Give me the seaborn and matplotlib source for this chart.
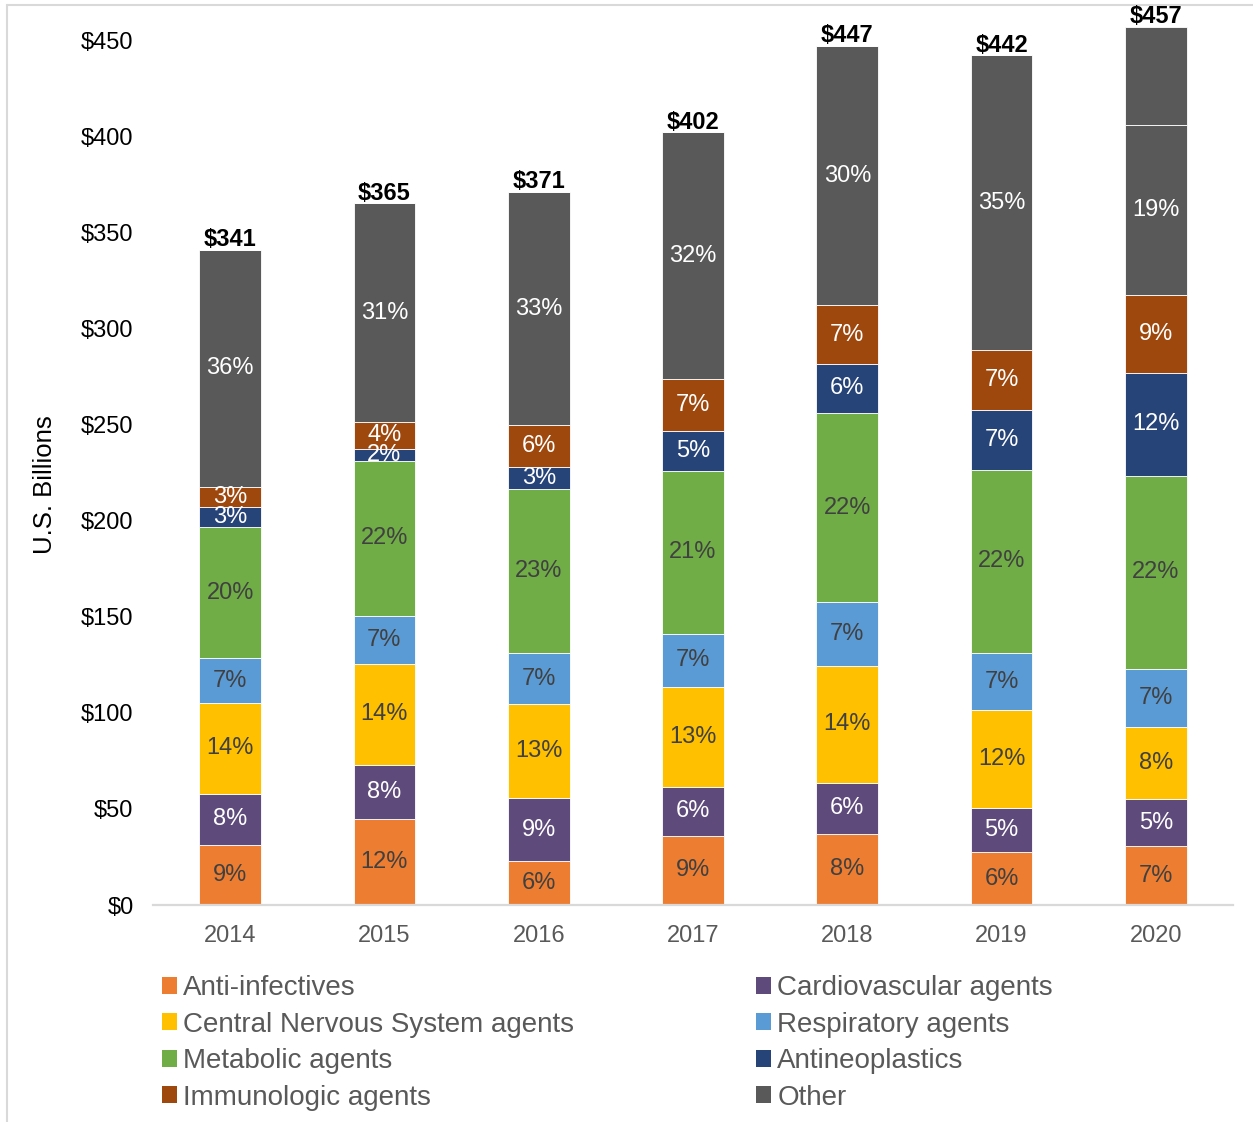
import numpy as np
import pandas as pd
import matplotlib
matplotlib.use("Agg")
import matplotlib.pyplot as plt
from matplotlib.patches import Patch
from matplotlib.lines import Line2D
import seaborn as sns

# Spending by therapeutic class, U.S. $ billions
years = ["2014", "2015", "2016", "2017", "2018", "2019", "2020"]
anti_infectives = [31.0, 44.5, 23.0, 36.0, 37.0, 27.5, 30.5]
cardiovascular = [27.0, 28.5, 32.5, 25.5, 26.5, 23.0, 24.5]
cns_agents = [47.0, 52.5, 49.0, 52.0, 61.0, 51.0, 37.5]
respiratory = [23.5, 25.0, 26.5, 27.5, 33.0, 29.5, 30.5]
metabolic = [68.0, 80.5, 85.5, 85.0, 98.5, 95.5, 100.0]
antineoplastics = [10.5, 6.5, 11.5, 20.5, 25.5, 31.0, 54.0]
immunologic = [10.5, 14.0, 21.5, 27.0, 30.5, 31.5, 40.5]
other = [123.5, 113.5, 121.5, 128.5, 135.0, 153.0, 88.5]
other_unallocated = [0.0, 0.0, 0.0, 0.0, 0.0, 0.0, 51.0]

# (legend name, values, fill colour, label colour or None for no labels)
series = [
    ("Anti-infectives", anti_infectives, "#ED7D31", "#404040"),
    ("Cardiovascular agents", cardiovascular, "#5E4A7B", "white"),
    ("Central Nervous System agents", cns_agents, "#FFC000", "#404040"),
    ("Respiratory agents", respiratory, "#5B9BD5", "#404040"),
    ("Metabolic agents", metabolic, "#70AD47", "#404040"),
    ("Antineoplastics", antineoplastics, "#264478", "white"),
    ("Immunologic agents", immunologic, "#9E480E", "white"),
    ("Other", other, "#595959", "white"),
    (None, other_unallocated, "#595959", None),
]

sns.set_theme(style="white")
plt.rcParams["font.family"] = ["Liberation Sans", "DejaVu Sans"]

W, H = 1253, 1122
fig = plt.figure(figsize=(W / 100, H / 100), dpi=100)
ax = fig.add_axes([153 / W, (H - 905) / H, 1080 / W, 900 / H])
ax.patch.set_visible(False)

totals = np.sum([np.asarray(s[1]) for s in series], axis=0)

bottom = np.zeros(len(years))
for name, vals, color, txt_color in series:
    vals = np.asarray(vals, dtype=float)
    df = pd.DataFrame({"year": years, "value": vals})
    sns.barplot(data=df, x="year", y="value", order=years, color=color,
                saturation=1, width=0.4, errorbar=None, bottom=bottom.copy(),
                edgecolor="white", linewidth=0.6, ax=ax)
    if txt_color is not None:
        for i, (v, b, t) in enumerate(zip(vals, bottom, totals)):
            ax.text(i, b + v / 2, f"{v / t * 100:.0f}%", ha="center",
                    va="center", fontsize=17, color=txt_color)
    bottom = bottom + vals

for i, t in enumerate(totals):
    ax.annotate(f"${t:.0f}", xy=(i, t), xytext=(0, 2.6),
                textcoords="offset points", ha="center", va="baseline",
                fontsize=17, fontweight="bold", color="black",
                annotation_clip=False, zorder=5)

ax.set_xlim(-0.5, 6.5)
ax.set_ylim(0, 900 / 1.922)
ax.set_yticks(range(0, 451, 50))
ax.set_yticklabels([f"${v}" for v in range(0, 451, 50)])
ax.tick_params(axis="y", length=0, pad=14, labelsize=17, labelcolor="black")
ax.tick_params(axis="x", length=0, pad=14.5, labelsize=17, labelcolor="#595959")
ax.set_xlabel("")
ax.set_ylabel("")
for side in ["left", "right", "top"]:
    ax.spines[side].set_visible(False)
ax.spines["bottom"].set_color("#D9D9D9")
ax.spines["bottom"].set_linewidth(1.6)

fig.text(45 / W, 1 - 485 / H, "U.S. Billions", rotation=90, ha="center",
         va="center", fontsize=18.5, color="black")

# Legend laid out row by row across two columns
named = [s for s in series if s[0] is not None]
order = [0, 2, 4, 6, 1, 3, 5, 7]
handles = [Patch(facecolor=named[k][2], edgecolor="none") for k in order]
labels = [named[k][0] for k in order]
leg = fig.legend(handles, labels, ncol=2, loc="upper left",
                 bbox_to_anchor=(162 / W, 1 - 975 / H), frameon=False,
                 fontsize=20, handlelength=0.55, handleheight=0.55,
                 handletextpad=0.22, columnspacing=6.53, labelspacing=0.38,
                 borderpad=0, borderaxespad=0)
for txt in leg.get_texts():
    txt.set_color("#595959")

# Chart frame edges, kept beneath the plot contents
fig.add_artist(Line2D([7 / W, 1], [1 - 5 / H, 1 - 5 / H],
                      transform=fig.transFigure, color="#D9D9D9", lw=1.5,
                      zorder=-1))
fig.add_artist(Line2D([7 / W, 7 / W], [0, 1 - 5 / H],
                      transform=fig.transFigure, color="#D9D9D9", lw=1.5,
                      zorder=-1))

fig.savefig("out.png", dpi=100)
